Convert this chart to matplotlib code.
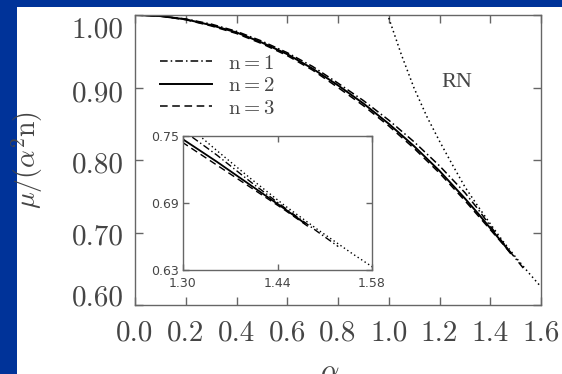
import numpy as np
import matplotlib.pyplot as plt
import matplotlib.transforms as mtransforms
from matplotlib.patches import Rectangle

plt.rcParams['mathtext.fontset'] = 'cm'
plt.rcParams['axes.unicode_minus'] = False

# values
alpha_n1 = [0.0, 0.1, 0.2, 0.3, 0.4, 0.5, 0.6, 0.7, 0.8, 0.9, 1.0, 1.1, 1.2, 1.3, 1.35, 1.4, 1.45, 1.5, 1.53]
mu_n1 = [1.000, 0.9986, 0.9945, 0.9875, 0.9775, 0.964, 0.948, 0.929, 0.906, 0.882, 0.855, 0.825,
         0.792, 0.755, 0.733, 0.709, 0.686, 0.664, 0.651]

alpha_n2 = [0.0, 0.1, 0.2, 0.3, 0.4, 0.5, 0.6, 0.7, 0.8, 0.9, 1.0, 1.1, 1.2, 1.3, 1.35, 1.4, 1.45, 1.48]
mu_n2 = [1.000, 0.9985, 0.994, 0.986, 0.976, 0.962, 0.946, 0.926, 0.903, 0.878, 0.850, 0.819,
         0.785, 0.747, 0.727, 0.706, 0.685, 0.672]

alpha_n3 = [0.0, 0.1, 0.2, 0.3, 0.4, 0.5, 0.6, 0.7, 0.8, 0.9, 1.0, 1.1, 1.2, 1.3, 1.35, 1.4, 1.45, 1.49]
mu_n3 = [1.000, 0.9984, 0.9935, 0.985, 0.9745, 0.9605, 0.944, 0.924, 0.900, 0.875, 0.847, 0.816,
         0.782, 0.744, 0.724, 0.704, 0.684, 0.667]

alpha_rn = [0.995, 1.0, 1.05, 1.1, 1.15, 1.2, 1.25, 1.3, 1.35, 1.4, 1.45, 1.5, 1.55, 1.58, 1.6]
mu_rn = [1.002, 0.996, 0.945, 0.899, 0.860, 0.826, 0.794, 0.763, 0.737, 0.712, 0.688, 0.666,
         0.645, 0.633, 0.625]

labels = [r'$\mathrm{n=1}$', r'$\mathrm{n=2}$', r'$\mathrm{n=3}$']
xticks = [0.0, 0.2, 0.4, 0.6, 0.8, 1.0, 1.2, 1.4, 1.6]
yticks = [0.60, 0.70, 0.80, 0.90, 1.00]
in_xticks = [1.30, 1.44, 1.58]
in_yticks = [0.63, 0.69, 0.75]

grey = '#666666'
txt = '#454545'

fig = plt.figure(figsize=(5.62, 3.74), dpi=100)
fig.patch.set_facecolor('#003399')
fig.add_artist(Rectangle((17/562, 0), 1, (374-7)/374, transform=fig.transFigure,
                         facecolor='white', edgecolor='none', zorder=0))

ax = fig.add_axes([135/562, 69/374, 406/562, 290/374])


def draw(a, lw):
    a.plot(alpha_n1, mu_n1, color='black', lw=lw, dashes=(5, 2, 1, 2), label=labels[0])
    a.plot(alpha_n2, mu_n2, color='black', lw=lw + 0.3, label=labels[1])
    a.plot(alpha_n3, mu_n3, color='black', lw=lw, dashes=(5, 3), label=labels[2])
    a.plot(alpha_rn, mu_rn, color='black', lw=lw, dashes=(1, 2))


draw(ax, 1.1)
ax.set_xlim(0, 1.6)
ax.set_ylim(0.6, 1.0)
ax.set_xticks(xticks)
ax.set_yticks(yticks)
ax.set_xticklabels(['%.1f' % v for v in xticks])
ax.set_yticklabels(['%.2f' % v for v in yticks])
for s in ax.spines.values():
    s.set_color(grey)
    s.set_linewidth(1.0)
ax.tick_params(direction='in', length=6, width=1, color=grey, top=True, right=True,
               labelsize=21, labelcolor=txt)
ax.tick_params(axis='x', pad=11)
ax.tick_params(axis='y', pad=8)
for lab in ax.get_xticklabels() + ax.get_yticklabels():
    lab.set_family('cmr10')

# the y tick labels sit a bit squeezed toward the middle in the original
shift_px = [10, -2, -2, -4, -12]
for lab, dy in zip(ax.get_yticklabels(), shift_px):
    lab.set_transform(lab.get_transform() +
                      mtransforms.ScaledTranslation(0, dy / 100, fig.dpi_scale_trans))

ax.set_ylabel(r'$\mu/(\alpha^2\mathrm{n})$', fontsize=20, color=txt)
ax.yaxis.set_label_coords(-0.222, 0.5)
ax.set_xlabel(r'$\alpha$', fontsize=21, color=txt)
ax.xaxis.set_label_coords(0.48, -0.184)

leg = ax.legend(loc='upper left', bbox_to_anchor=(0.015, 0.935), frameon=False,
                handlelength=2.5, handletextpad=0.75, labelspacing=0.12,
                prop={'size': 15})
for t in leg.get_texts():
    t.set_color(txt)

ax.text(1.208, 0.907, 'RN', fontsize=16, family='Liberation Serif', color=txt,
        ha='left', va='center')

ins = fig.add_axes([183/562, 104/374, 189/562, 134/374])
draw(ins, 1.0)
ins.set_xlim(1.30, 1.58)
ins.set_ylim(0.63, 0.75)
ins.set_xticks(in_xticks)
ins.set_yticks(in_yticks)
ins.set_xticklabels(['%.2f' % v for v in in_xticks])
ins.set_yticklabels(['%.2f' % v for v in in_yticks])
for s in ins.spines.values():
    s.set_color(grey)
    s.set_linewidth(1.0)
ins.tick_params(direction='in', length=4, width=1, color=grey, top=True, right=True,
                labelsize=9, labelcolor=txt)
ins.tick_params(axis='x', pad=5)
ins.tick_params(axis='y', pad=3)

fig.savefig('out.png', dpi=100, facecolor=fig.get_facecolor())
